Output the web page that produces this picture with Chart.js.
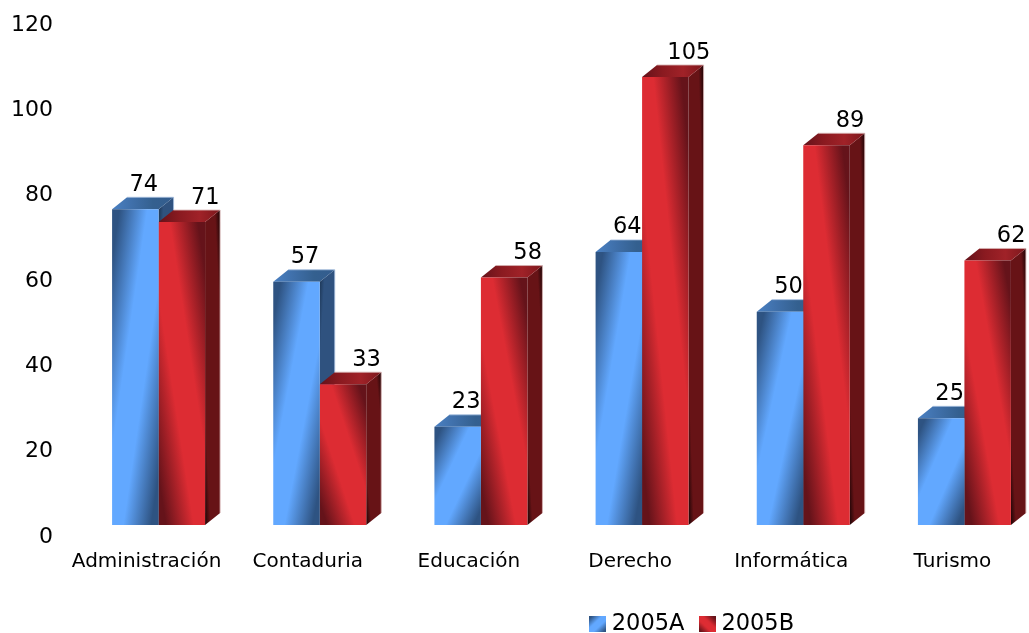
<!DOCTYPE html>
<html lang="es">
<head>
<meta charset="utf-8">
<title>Alumnos por carrera</title>
<style>
    html, body { margin: 0; padding: 0; background: #fff; overflow: hidden; }
    canvas { display: block; }
</style>
<script src="https://cdn.jsdelivr.net/npm/chart.js@4/dist/chart.umd.min.js"></script>
</head>
<body>
<canvas id="barChart" width="1029" height="633"></canvas>
<script>
const categories = ['Administración', 'Contaduria', 'Educación', 'Derecho', 'Informática', 'Turismo'];
const seriesNames = ['2005A', '2005B'];
const values2005A = [74, 57, 23, 64, 50, 25];
const values2005B = [71, 33, 58, 105, 89, 62];
const yMax = 120;
const yStep = 20;

const DEPTH_X = 15;
const DEPTH_Y = 12;
const CATEGORY_PERCENT = 0.577;
const FONT = '"DejaVu Sans", Verdana, sans-serif';

const palette = [
    {
        face: ['#2e5382', '#62a8ff', '#62a8ff', '#2e5382'],
        side: ['#1b3452', '#2f527f', '#2f527f', '#1b3452'],
        top: ['#4a80c2', '#3f6fa9', '#34608f', '#335c8e'],
        edge: 'rgba(165, 190, 222, 0.8)',
        flip: false,
        labelDx: 8.5,
        labelDy: -24.5
    },
    {
        face: ['#65131a', '#dd2c33', '#dd2c33', '#65131a'],
        side: ['#1c0405', '#671316', '#671316', '#1c0405'],
        top: ['#64121a', '#8a1a20', '#a02228', '#7c171c'],
        edge: 'rgba(214, 178, 178, 0.85)',
        flip: true,
        labelDx: 23.5,
        labelDy: -24
    }
];

// Diagonal gradient whose colour bands run along the box diagonal
function diagonalGradient(ctx, x, y, w, h, colors, flip, stops) {
    const len = Math.sqrt(w * w + h * h);
    const cx = x + w / 2;
    const cy = y + h / 2;
    const reach = w * h / len;
    const nx = h / len * reach;
    const ny = (flip ? -w : w) / len * reach;
    const gradient = ctx.createLinearGradient(cx - nx, cy - ny, cx + nx, cy + ny);
    const at = stops || [0.08, 0.38, 0.62, 0.92];
    colors.forEach((color, i) => gradient.addColorStop(at[i], color));
    return gradient;
}

function getBarBox(chart, datasetIndex, index) {
    const xScale = chart.scales.x;
    const yScale = chart.scales.y;
    const barWidth = xScale.width / categories.length * CATEGORY_PERCENT / 2;
    const center = xScale.getPixelForValue(index);
    const value = chart.data.datasets[datasetIndex].data[index];
    const top = yScale.getPixelForValue(value);
    return {
        x: datasetIndex === 0 ? center - barWidth : center,
        y: top,
        w: barWidth,
        h: yScale.getPixelForValue(0) - top
    };
}

function faceColor(context) {
    if (context.type !== 'data') return '#000';
    const box = getBarBox(context.chart, context.datasetIndex, context.dataIndex);
    const style = palette[context.datasetIndex];
    return diagonalGradient(context.chart.ctx, box.x, box.y, box.w, box.h, style.face, style.flip);
}

function fillPolygon(ctx, points, fill) {
    ctx.beginPath();
    points.forEach((p, i) => (i === 0 ? ctx.moveTo(p[0], p[1]) : ctx.lineTo(p[0], p[1])));
    ctx.closePath();
    ctx.fillStyle = fill;
    ctx.fill();
}

// Side and top of each bar, painted under the front faces
const depthPlugin = {
    id: 'depth',
    beforeDatasetsDraw(chart) {
        const ctx = chart.ctx;
        chart.data.datasets.forEach((dataset, d) => {
            const style = palette[d];
            dataset.data.forEach((value, i) => {
                const box = getBarBox(chart, d, i);
                const right = box.x + box.w;
                const bottom = box.y + box.h;
                const sideFill = diagonalGradient(ctx, right, box.y - DEPTH_Y, DEPTH_X, box.h + DEPTH_Y,
                    style.side, style.flip, [0, 0.18, 0.82, 1]);
                fillPolygon(ctx, [
                    [right, box.y],
                    [right + DEPTH_X, box.y - DEPTH_Y],
                    [right + DEPTH_X, bottom - DEPTH_Y],
                    [right, bottom]
                ], sideFill);
                const topFill = ctx.createLinearGradient(box.x, 0, right + DEPTH_X, 0);
                style.top.forEach((color, s) => topFill.addColorStop(s / 3, color));
                fillPolygon(ctx, [
                    [box.x, box.y],
                    [box.x + DEPTH_X, box.y - DEPTH_Y],
                    [right + DEPTH_X, box.y - DEPTH_Y],
                    [right, box.y]
                ], topFill);
                ctx.beginPath();
                ctx.moveTo(box.x + DEPTH_X, box.y - DEPTH_Y);
                ctx.lineTo(right + DEPTH_X, box.y - DEPTH_Y);
                ctx.lineTo(right + DEPTH_X, bottom - DEPTH_Y);
                ctx.strokeStyle = style.edge;
                ctx.lineWidth = 1;
                ctx.stroke();
            });
        });
    },
    afterDatasetsDraw(chart) {
        const ctx = chart.ctx;
        ctx.save();
        ctx.font = '22.5px ' + FONT;
        ctx.fillStyle = '#000';
        ctx.textAlign = 'center';
        ctx.textBaseline = 'middle';
        chart.data.datasets.forEach((dataset, d) => {
            dataset.data.forEach((value, i) => {
                const box = getBarBox(chart, d, i);
                ctx.fillText(value, box.x + box.w / 2 + palette[d].labelDx, box.y + palette[d].labelDy);
            });
        });
        ctx.restore();
    }
};

// The plot runs past the right edge and the legend sits right of centre in the original
const placementPlugin = {
    id: 'placement',
    afterLayout(chart) {
        const area = chart.chartArea;
        const xScale = chart.scales.x;
        const yScale = chart.scales.y;

        area.left = xScale.left = 78;
        area.right = xScale.right = 1045;
        area.width = xScale.width = 967;
        xScale.configure();

        area.top = yScale.top = 13;
        area.bottom = yScale.bottom = 525;
        area.height = yScale.height = 512;
        yScale.configure();

        const legend = chart.legend;
        const pad = legend.options.labels.padding;
        legend.left = 594.5 - pad;
        legend.right = 1029;
        legend.top = 626 - 13 - pad;
    }
};

function createLegendSwatch(index) {
    const swatch = document.createElement('canvas');
    swatch.width = 17;
    swatch.height = 16;
    const ctx = swatch.getContext('2d');
    const style = palette[index];
    ctx.fillStyle = diagonalGradient(ctx, 0, 0, 17, 16, style.face, style.flip);
    ctx.fillRect(0, 0, 17, 16);
    return swatch;
}

function initializeChart() {
    new Chart(document.getElementById('barChart'), {
        type: 'bar',
        data: {
            labels: categories,
            datasets: [
                { label: seriesNames[0], data: values2005A, backgroundColor: faceColor },
                { label: seriesNames[1], data: values2005B, backgroundColor: faceColor }
            ]
        },
        options: {
            responsive: false,
            animation: false,
            datasets: { bar: { categoryPercentage: CATEGORY_PERCENT, barPercentage: 1 } },
            plugins: {
                tooltip: { enabled: false },
                legend: {
                    position: 'bottom',
                    align: 'start',
                    labels: {
                        usePointStyle: true,
                        pointStyleWidth: 6,
                        padding: 19.75,
                        color: '#000',
                        font: { family: FONT, size: 22.5 },
                        generateLabels() {
                            return seriesNames.map((name, i) => ({
                                text: name,
                                pointStyle: createLegendSwatch(i),
                                fontColor: '#000',
                                datasetIndex: i
                            }));
                        }
                    }
                }
            },
            scales: {
                x: {
                    grid: { display: false, drawTicks: false },
                    border: { display: false },
                    afterFit(scale) {
                        scale.height = 108 - scale.chart.legend.height;
                    },
                    ticks: {
                        color: '#000',
                        padding: 25,
                        labelOffset: -12,
                        maxRotation: 0,
                        autoSkip: false,
                        font: { family: FONT, size: 20 }
                    }
                },
                y: {
                    min: 0,
                    max: yMax,
                    grid: { display: false, drawTicks: false },
                    border: { display: false },
                    afterFit(scale) {
                        scale.width = 78;
                    },
                    ticks: {
                        stepSize: yStep,
                        color: '#000',
                        padding: 25,
                        labelOffset: 12,
                        font: { family: FONT, size: 22 }
                    }
                }
            }
        },
        plugins: [depthPlugin, placementPlugin]
    });
}

initializeChart();
</script>
</body>
</html>
